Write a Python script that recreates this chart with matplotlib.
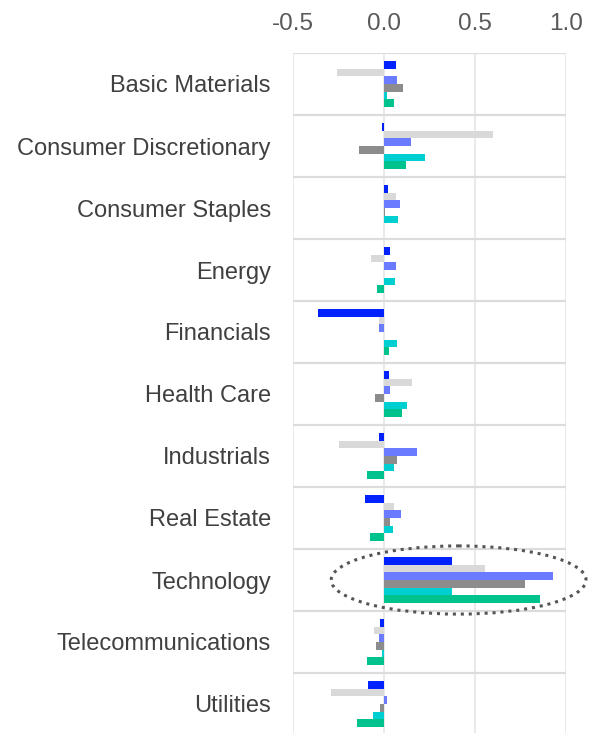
import numpy as np
import matplotlib
matplotlib.use("Agg")
import matplotlib.pyplot as plt
from matplotlib.patches import Ellipse

sectors = ["Basic Materials", "Consumer Discretionary", "Consumer Staples", "Energy",
           "Financials", "Health Care", "Industrials", "Real Estate", "Technology",
           "Telecommunications", "Utilities"]

s1 = [0.064, -0.011, 0.020, 0.031, -0.360, 0.026, -0.026, -0.104, 0.375, -0.024, -0.088]
s2 = [-0.260, 0.600, 0.064, -0.070, -0.029, 0.152, -0.245, 0.055, 0.555, -0.055, -0.290]
s3 = [0.071, 0.148, 0.088, 0.066, -0.027, 0.035, 0.181, 0.092, 0.930, -0.027, 0.015]
s4 = [0.106, -0.139, 0.005, 0.000, 0.000, -0.050, 0.070, 0.033, 0.773, -0.046, -0.024]
s5 = [0.018, 0.225, 0.075, 0.060, 0.073, 0.126, 0.053, 0.049, 0.375, -0.011, -0.062]
s6 = [0.057, 0.119, 0.000, -0.038, 0.027, 0.100, -0.092, -0.079, 0.859, -0.092, -0.148]

series = [s1, s2, s3, s4, s5, s6]
colors = ["#0022ff", "#d9d9d9", "#6b7bff", "#8c8c8c", "#00cfd2", "#00c28c"]

xticks = [-0.5, 0.0, 0.5, 1.0]
xticklabels = ["-0.5", "0.0", "0.5", "1.0"]

fig = plt.figure(figsize=(5.94, 7.33), dpi=100)
ax = fig.add_axes([293 / 594, -2 / 733, 273 / 594, 682 / 733])

n = len(sectors)
bh = 0.122
y = np.arange(n)
for i, (vals, c) in enumerate(zip(series, colors)):
    ax.barh(y + (i - 2.5) * bh, vals, height=bh, color=c, zorder=3)

ax.set_xlim(-0.5, 1.0)
ax.set_ylim(n - 0.5, -0.5)

# vertical grid
for xv in xticks:
    ax.axvline(xv, color="#e6e6e6", lw=1.2, zorder=1)
# category separators
for k in range(n + 1):
    ax.axhline(k - 0.5, color="#dcdcdc", lw=1.6, zorder=1)

for sp in ax.spines.values():
    sp.set_visible(False)

ax.xaxis.tick_top()
ax.set_xticks(xticks)
ax.set_xticklabels(xticklabels, fontsize=17.5, color="#595959", family="Liberation Sans")
ax.tick_params(axis="x", length=0, pad=13)
ax.set_yticks(y)
ax.set_yticklabels(sectors, fontsize=17, color="#404040", family="Liberation Sans")
ax.tick_params(axis="y", length=0, pad=16)

ell = Ellipse((0.41, 8.0), width=1.40, height=1.1, fill=False, edgecolor="#555555",
              lw=2.2, linestyle=(0, (1, 1.6)), clip_on=False, zorder=4)
ax.add_patch(ell)

fig.savefig("out.png", dpi=100)
